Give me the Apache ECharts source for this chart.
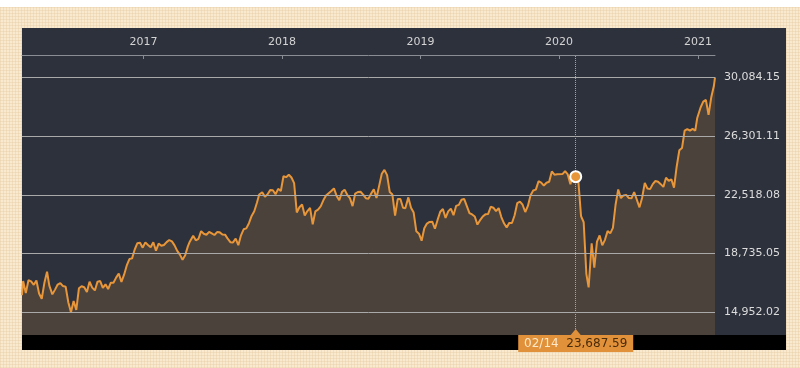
<!DOCTYPE html>
<html>
<head>
<meta charset="utf-8">
<script src="https://cdn.jsdelivr.net/npm/echarts@6/dist/echarts.min.js"></script>
<style>
  html, body { margin: 0; padding: 0; width: 800px; height: 368px; background: #ffffff; overflow: hidden; }
  .cream { position: absolute; left: 0; top: 7px; width: 800px; height: 361px; background-color: #f8e9cf;
    background-image: repeating-linear-gradient(0deg, rgba(226,196,150,0.30) 0 1px, transparent 1px 3px),
                      repeating-linear-gradient(90deg, rgba(226,196,150,0.30) 0 1px, transparent 1px 3px); }
  .panel { position: absolute; left: 22px; top: 28px; width: 764px; height: 322px; background: #2d313c; }
  .bar { position: absolute; left: 22px; top: 335px; width: 764px; height: 15px; background: #000; }
  #chart { position: absolute; left: 0; top: 0; width: 800px; height: 368px; }
</style>
</head>
<body>
<div class="cream"></div>
<div class="panel"></div>
<div class="bar"></div>
<div id="chart"></div>
<script>
const dates = [
  '2016-02-16','2016-02-19','2016-02-26','2016-03-04','2016-03-11','2016-03-18','2016-03-25','2016-04-01','2016-04-08','2016-04-15','2016-04-22','2016-04-28',
  '2016-05-06','2016-05-13','2016-05-20','2016-05-27','2016-06-03','2016-06-10','2016-06-17','2016-06-24','2016-07-01','2016-07-08','2016-07-15','2016-07-22',
  '2016-07-29','2016-08-05','2016-08-12','2016-08-19','2016-08-26','2016-09-02','2016-09-09','2016-09-16','2016-09-23','2016-09-30','2016-10-07','2016-10-14',
  '2016-10-21','2016-10-28','2016-11-04','2016-11-11','2016-11-18','2016-11-25','2016-12-02','2016-12-09','2016-12-16','2016-12-23','2016-12-30',
  '2017-01-06','2017-01-13','2017-01-20','2017-01-27','2017-02-03','2017-02-10','2017-02-17','2017-02-24','2017-03-03','2017-03-10','2017-03-17','2017-03-24',
  '2017-03-31','2017-04-07','2017-04-14','2017-04-21','2017-04-28','2017-05-02','2017-05-12','2017-05-19','2017-05-26','2017-06-02','2017-06-09','2017-06-16',
  '2017-06-23','2017-06-30','2017-07-07','2017-07-14','2017-07-21','2017-07-28','2017-08-04','2017-08-10','2017-08-18','2017-08-25','2017-09-01','2017-09-08',
  '2017-09-15','2017-09-22','2017-09-29','2017-10-06','2017-10-13','2017-10-20','2017-10-27','2017-11-02','2017-11-10','2017-11-17','2017-11-24','2017-12-01',
  '2017-12-08','2017-12-15','2017-12-22','2017-12-29',
  '2018-01-05','2018-01-12','2018-01-19','2018-01-26','2018-02-02','2018-02-09','2018-02-16','2018-02-23','2018-03-02','2018-03-09','2018-03-16','2018-03-23',
  '2018-03-30','2018-04-06','2018-04-13','2018-04-20','2018-04-27','2018-05-02','2018-05-11','2018-05-18','2018-05-25','2018-06-01','2018-06-08','2018-06-15',
  '2018-06-22','2018-06-29','2018-07-06','2018-07-13','2018-07-20','2018-07-27','2018-08-03','2018-08-10','2018-08-17','2018-08-24','2018-08-31','2018-09-07',
  '2018-09-14','2018-09-21','2018-09-28','2018-10-05','2018-10-12','2018-10-19','2018-10-26','2018-11-02','2018-11-09','2018-11-16','2018-11-22','2018-11-30',
  '2018-12-07','2018-12-14','2018-12-21','2018-12-28',
  '2019-01-04','2019-01-11','2019-01-18','2019-01-25','2019-02-01','2019-02-08','2019-02-15','2019-02-22','2019-03-01','2019-03-08','2019-03-15','2019-03-22',
  '2019-03-29','2019-04-05','2019-04-12','2019-04-19','2019-04-26','2019-05-10','2019-05-17','2019-05-24','2019-05-31','2019-06-07','2019-06-14','2019-06-21',
  '2019-06-28','2019-07-05','2019-07-12','2019-07-19','2019-07-26','2019-08-02','2019-08-09','2019-08-16','2019-08-23','2019-08-30','2019-09-06','2019-09-13',
  '2019-09-20','2019-09-27','2019-10-04','2019-10-11','2019-10-18','2019-10-25','2019-11-01','2019-11-08','2019-11-15','2019-11-22','2019-11-29','2019-12-06',
  '2019-12-13','2019-12-20','2019-12-27',
  '2020-01-10','2020-01-17','2020-01-24','2020-01-31','2020-02-07','2020-02-14','2020-02-21','2020-02-28','2020-03-06','2020-03-13','2020-03-19','2020-03-27',
  '2020-04-03','2020-04-10','2020-04-17','2020-04-24','2020-05-01','2020-05-08','2020-05-15','2020-05-22','2020-05-29','2020-06-05','2020-06-12','2020-06-19',
  '2020-06-26','2020-07-03','2020-07-10','2020-07-17','2020-07-22','2020-07-31','2020-08-07','2020-08-14','2020-08-21','2020-08-28','2020-09-04','2020-09-11',
  '2020-09-18','2020-09-25','2020-10-02','2020-10-09','2020-10-16','2020-10-23','2020-10-30','2020-11-06','2020-11-13','2020-11-20','2020-11-27','2020-12-04',
  '2020-12-11','2020-12-18','2020-12-25','2020-12-30',
  '2021-01-08','2021-01-15','2021-01-22','2021-01-29','2021-02-05','2021-02-12','2021-02-15'
];
const values = [
  16054.43,16967,16188,17015,16939,16725,17003,16164,15822,16848,17572,16666,
  16106,16412,16736,16834,16642,16601,15599,14952.02,15682,15106,16497,16627,
  16569,16254,16919,16545,16360,16925,16965,16519,16754,16450,16860,16856,
  17184,17446,16905,17374,17968,18381,18426,18996,19401,19428,19114,
  19454,19287,19137,19467,18918,19378,19234,19283,19469,19604,19521,19262,
  18909,18664,18335,18620,19197,19445,19883,19590,19686,20177,20013,19943,
  20132,20033,19929,20118,20099,19959,19952,19729,19470,19452,19691,19274,
  19909,20296,20356,20690,21155,21457,22008,22539,22681,22397,22551,22819,
  22811,22553,22903,22765,
  23714,23653,23808,23631,23274,21382,21720,21892,21181,21469,21676,20617,
  21454,21568,21778,22162,22467,22473,22758,22930,22450,22171,22694,22851,
  22516,22305,21788,22597,22698,22712,22525,22298,22270,22601,22865,22307,
  23094,23870,24120,23784,22694,22532,21184,22243,22250,21680,21646,22351,
  21679,21374,20166,20015,
  19561,20359,20666,20773,20788,20333,20900,21425,21602,21025,21450,21627,
  21205,21807,21870,22200,22258,21344,21250,21117,20601,20884,21116,21258,
  21275,21746,21685,21466,21658,21087,20684,20418,20710,20704,21199,21988,
  22079,21879,21410,21799,22492,22799,22851,23392,23303,23113,23294,23354,
  24023,23816,23837,
  23850,24041,23827,23205,23827,23687.59,23386,21142,20749,17431,16552,19389,
  17820,19498,19897,19262,19619,20179,20037,20388,21877,22863,22305,22478,
  22512,22306,22290,22696,22751,21710,22329,23289,22920,22882,23205,23406,
  23360,23204,23030,23619,23410,23516,22977,24325,25385,25527,26644,26751,
  26652,26763,26656,27444,
  28139,28519,28631,27663,28779,29520,30084.15
];
const yTickValues = [14952.02, 18735.05, 22518.08, 26301.11, 30084.15];
const highlightDate = '2020-02-14';

const hlIndex = dates.indexOf(highlightDate);
const hlValue = values[hlIndex];
const yMin = 13490, yMax = 31520;
const fmt = v => v.toLocaleString('en-US', {minimumFractionDigits: 2, maximumFractionDigits: 2});
const orange = '#e8963a';
const FONT = 'DejaVu Sans';

const chart = echarts.init(document.getElementById('chart'), null, {renderer: 'canvas'});
chart.setOption({
  animation: false,
  backgroundColor: 'transparent',
  grid: {left: 22, right: 85, top: 55, bottom: 33, containLabel: false},
  xAxis: {
    type: 'time', position: 'top',
    min: dates[0], max: dates[dates.length - 1],
    minInterval: 365 * 86400000, maxInterval: 366 * 86400000,
    axisLine: {show: true, lineStyle: {color: '#8a8d94', width: 1}},
    axisTick: {show: true, inside: true, length: 4, lineStyle: {color: '#8a8d94'}},
    splitLine: {show: false},
    axisLabel: {
      color: '#d4d4d4', fontSize: 11, fontFamily: FONT, margin: 7,
      formatter: function (v) { const d = new Date(v); return (d.getMonth() === 0 && d.getDate() === 1) ? String(d.getFullYear()) : ''; }
    }
  },
  yAxis: {type: 'value', min: yMin, max: yMax, show: false, splitLine: {show: false}},
  series: [{
    type: 'line',
    data: dates.map((d, i) => [d, values[i]]),
    symbol: 'none',
    lineStyle: {color: orange, width: 2},
    areaStyle: {color: '#4b423c', opacity: 1},
    z: 2,
    markLine: {
      silent: true, symbol: ['none', 'none'], animation: false,
      data: yTickValues.map(v => ({
        yAxis: v,
        lineStyle: {color: '#a9a9aa', width: 1, type: 'solid'},
        label: {show: true, position: 'end', distance: 9, formatter: fmt(v), color: '#dcdcdc', fontSize: 11, fontFamily: FONT}
      })).concat([{
        xAxis: highlightDate,
        lineStyle: {color: orange, width: 1, type: 'dotted'},
        label: {show: false}
      }])
    },
    markPoint: {
      silent: true, animation: false,
      data: [
        {coord: [highlightDate, yMin], symbol: 'rect', symbolSize: [115, 17], symbolOffset: [0, 8.5],
         itemStyle: {color: '#e0913a'},
         label: {show: true, position: 'inside', fontFamily: FONT, fontSize: 12,
           formatter: '{a|' + highlightDate.slice(5).replace('-', '/') + '}  {b|' + fmt(hlValue) + '}',
           rich: {a: {color: '#fbe8c8', fontSize: 12, fontFamily: FONT}, b: {color: '#4a2c0a', fontSize: 12, fontFamily: FONT}}}},
        {coord: [highlightDate, yMin], symbol: 'triangle', symbolSize: [10, 6], symbolOffset: [0, -3],
         itemStyle: {color: '#e0913a'}, label: {show: false}},
        {coord: [highlightDate, hlValue], symbol: 'circle', symbolSize: 11,
         itemStyle: {color: orange, borderColor: '#ffffff', borderWidth: 2}, label: {show: false}}
      ]
    }
  }]
});
</script>
</body>
</html>
